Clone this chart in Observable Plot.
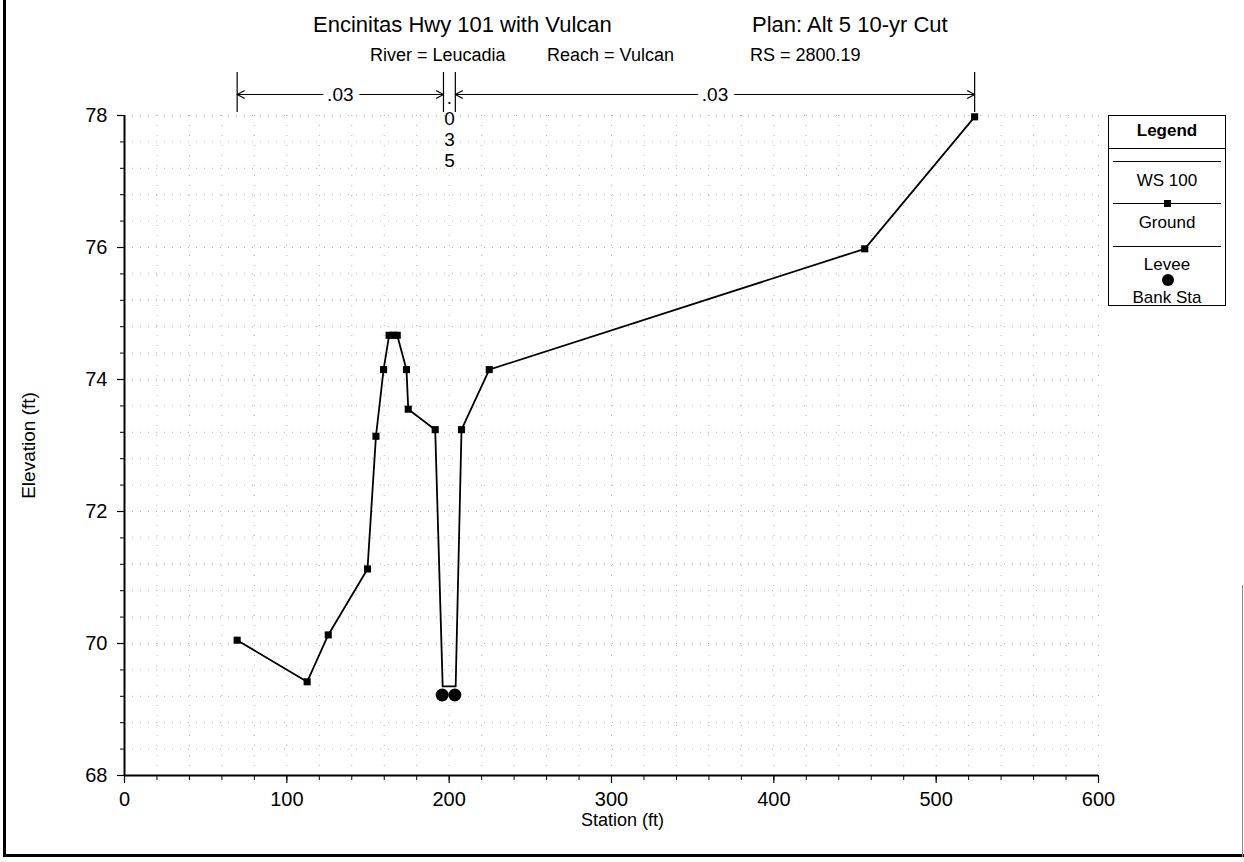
<!DOCTYPE html>
<html><head><meta charset="utf-8">
<script src="https://cdn.jsdelivr.net/npm/d3@7"></script>
<script src="https://cdn.jsdelivr.net/npm/@observablehq/plot@0.6"></script>
<style>
body{margin:0;background:#fff;font-family:"Liberation Sans",Arial,sans-serif;color:#000;}
#wrap{position:relative;width:1244px;height:862px;overflow:hidden;background:#fff;}
#chart{position:absolute;left:0;top:0;}
.t{position:absolute;white-space:pre;line-height:1;}
#legend{position:absolute;left:1108px;top:115px;width:116px;height:189px;border:1px solid #000;background:#fff;}
#legend .lt{position:absolute;left:0;width:116px;height:20px;line-height:20px;text-align:center;font-size:17px;}
#legend .ln{position:absolute;left:4px;width:108px;height:0;border-top:1px solid #000;}
.b{position:absolute;background:#000;}
</style></head><body>
<div id="wrap">
  <div id="chart"></div>
  <div class="t" style="left:313px;top:14px;font-size:22px">Encinitas Hwy 101 with Vulcan</div>
  <div class="t" style="left:752px;top:14px;font-size:22px">Plan: Alt 5 10-yr Cut</div>
  <div class="t" style="left:370px;top:46px;font-size:18px">River = Leucadia</div>
  <div class="t" style="left:547px;top:46px;font-size:18px">Reach = Vulcan</div>
  <div class="t" style="left:750px;top:46px;font-size:18px">RS = 2800.19</div>
  <div id="legend">
    <div class="lt" style="top:5px;font-weight:bold;">Legend</div>
    <div class="ln" style="top:32px;left:0;width:116px;"></div>
    <div class="ln" style="top:45px;"></div>
    <div class="lt" style="top:55px;">WS 100</div>
    <div class="ln" style="top:87px;"></div>
    <div style="position:absolute;left:55px;top:84px;width:7px;height:7px;background:#000;"></div>
    <div class="lt" style="top:97px;">Ground</div>
    <div class="ln" style="top:130px;"></div>
    <div class="lt" style="top:139px;">Levee</div>
    <div style="position:absolute;left:53px;top:158px;width:12px;height:12px;border-radius:6px;background:#000;"></div>
    <div class="lt" style="top:172px;">Bank Sta</div>
  </div>
  <div class="b" style="left:3px;top:0;width:3px;height:857px;"></div>
  <div class="b" style="left:3px;top:854px;width:1241px;height:3px;"></div>
  <div class="b" style="left:1242px;top:585px;width:1px;height:272px;background:#888;"></div>
</div>
<script>
// ---- data ----
const groundStation = [69.4, 112.5, 125.5, 149.7, 154.9, 159.6, 163, 165.5, 168, 173.7, 174.8, 191.4, 196, 204, 207.6, 224.7, 456, 523.7];
const groundElev    = [70.05, 69.42, 70.13, 71.13, 73.14, 74.15, 74.67, 74.67, 74.67, 74.15, 73.55, 73.24, 69.35, 69.35, 73.24, 74.15, 75.98, 77.98];
const bankStation = [195.7, 203.5];
const bankElev    = [69.22, 69.22];
const nBreaks = [69.4, 196.5, 203.8, 523.7];
const nValues = [".03", ".035", ".03"];
const xTicks = [0, 100, 200, 300, 400, 500, 600];
const yTicks = [68, 70, 72, 74, 76, 78];
const xTitle = "Station (ft)";
const yTitle = "Elevation (ft)";

// ---- derived tables ----
const ground = groundStation.map((s, i) => ({station: s, elev: groundElev[i]}));
const groundMarkers = ground.filter(d => !bankStation.some(b => Math.abs(b - d.station) < 1.5));
const banks = bankStation.map((s, i) => ({station: s, elev: bankElev[i]}));
const segs = nValues.map((v, i) => ({a: nBreaks[i], b: nBreaks[i + 1], mid: (nBreaks[i] + nBreaks[i + 1]) / 2, label: v}));
const wide = segs.filter(d => d.b - d.a > 20);
const narrow = segs.filter(d => d.b - d.a <= 20);
const arrows = wide.flatMap(d => [{x1: d.mid, x2: d.a}, {x1: d.mid, x2: d.b}]);
const xMinor = d3.range(0, 601, 20);
const yMinor = d3.range(0, 26).map(i => 68 + i * 0.4);
const yTop = yTicks[yTicks.length - 1];
const yBottom = yTicks[0];

const chart = Plot.plot({
  width: 1244,
  height: 862,
  marginLeft: 124,
  marginRight: 146,
  marginTop: 115,
  marginBottom: 87,
  x: {domain: [0, 600]},
  y: {domain: [68, 78]},
  style: {fontFamily: "'Liberation Sans', Arial, sans-serif", fontSize: "20px", background: "transparent", color: "#000"},
  marks: [
    Plot.gridY(yMinor, {stroke: "#b0b0b0", strokeOpacity: 1, strokeDasharray: "1,7"}),
    Plot.gridX(xMinor.filter(d => d > 0), {stroke: "#b0b0b0", strokeOpacity: 1, strokeDasharray: "1,9"}),
    Plot.axisY(yMinor, {tickSize: 4, tickFormat: () => "", label: null, strokeWidth: 1}),
    Plot.axisY(yTicks, {tickSize: 7, tickPadding: 10, fontSize: 20, label: null, tickFormat: d => String(d), strokeWidth: 1.2}),
    Plot.axisX(xMinor, {tickSize: 5, tickFormat: () => "", label: null, strokeWidth: 1}),
    Plot.axisX(xTicks, {tickSize: 8, tickPadding: 8, fontSize: 20, label: null, tickFormat: d => String(d), strokeWidth: 1.2}),
    Plot.ruleX([0], {stroke: "#000", strokeWidth: 2}),
    Plot.ruleY([yBottom], {stroke: "#000", strokeWidth: 2}),
    Plot.text([yTitle], {frameAnchor: "left", textAnchor: "middle", rotate: -90, dx: -96, fontSize: 19, fill: "#000"}),
    Plot.text([xTitle], {frameAnchor: "bottom", dy: 50, dx: 11, fontSize: 18, fill: "#000"}),
    // Manning's n annotation above the plot
    Plot.ruleX(nBreaks, {x: d => d, y1: yTop, y2: yTop, insetTop: -43, insetBottom: 3, stroke: "#000", strokeWidth: 1.2}),
    Plot.arrow(arrows, {x1: "x1", x2: "x2", y1: yTop, y2: yTop, dy: -21, headLength: 10, headAngle: 55, stroke: "#000", strokeWidth: 1.2}),
    Plot.text(wide, {x: "mid", y: yTop, dy: -21, text: "label", fontSize: 19, fill: "#000", stroke: "#fff", strokeWidth: 14, paintOrder: "stroke"}),
    Plot.text(narrow, {x: "mid", y: yTop, dy: -27, text: d => d.label.split("").join("\n"), lineAnchor: "top", lineHeight: 1.12, fontSize: 19, fill: "#000"}),
    // data
    Plot.line(ground, {x: "station", y: "elev", stroke: "#000", strokeWidth: 1.8}),
    Plot.dot(groundMarkers, {x: "station", y: "elev", symbol: "square", r: 4, fill: "#000", stroke: "none"}),
    Plot.dot(banks, {x: "station", y: "elev", r: 6.5, fill: "#000", stroke: "none"})
  ]
});
document.getElementById("chart").appendChild(chart);
</script>
</body></html>
